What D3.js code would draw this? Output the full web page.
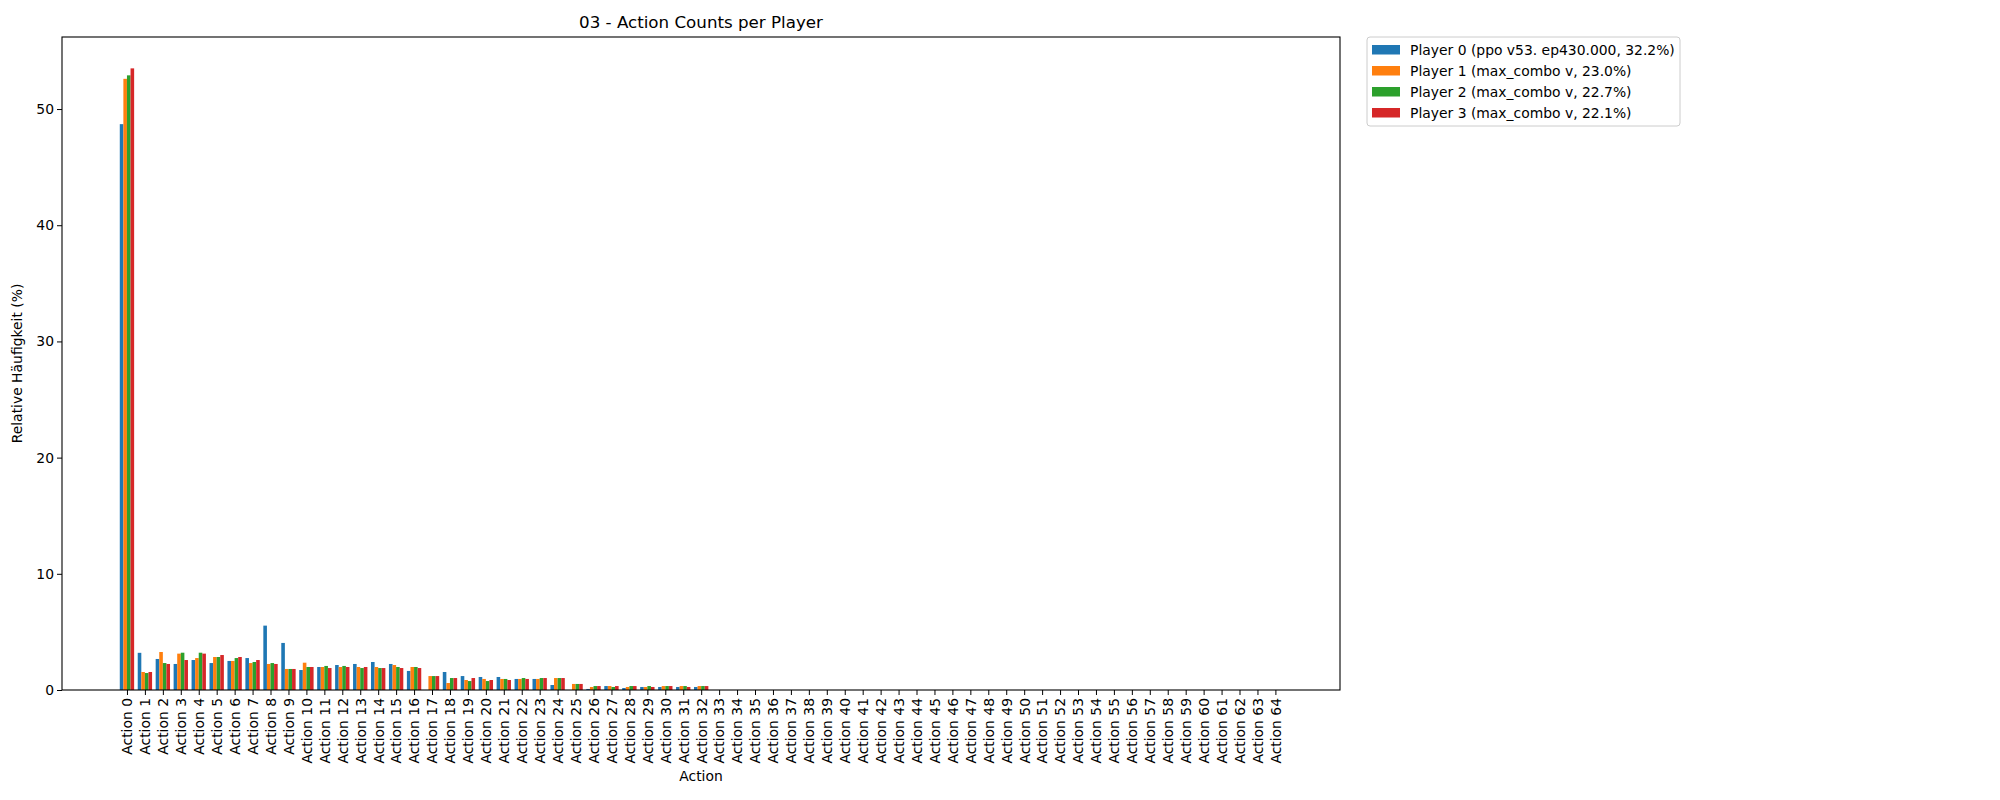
<!DOCTYPE html>
<html>
<head>
<meta charset="utf-8">
<script src="https://cdn.jsdelivr.net/npm/d3@7"></script>
<style>
  body { margin: 0; background: #fff; }
  text { font-family: "DejaVu Sans", sans-serif; fill: #000; }
</style>
</head>
<body>
<svg id="chart"></svg>
<script>
var WIDTH = 2000, HEIGHT = 800;

var actions = d3.range(65).map(function (i) { return 'Action ' + i; });

var players = [
	'Player 0 (ppo v53. ep430.000, 32.2%)',
	'Player 1 (max_combo v, 23.0%)',
	'Player 2 (max_combo v, 22.7%)',
	'Player 3 (max_combo v, 22.1%)'
];
var colors = ['#1f77b4', '#ff7f0e', '#2ca02c', '#d62728'];

// relative frequency (%) per action, actions 0..32 (rest are 0)
var p0 = [48.7, 3.2, 2.67, 2.24, 2.58, 2.32, 2.5, 2.75, 5.54, 4.05, 1.72, 1.98, 2.15, 2.24, 2.41, 2.24, 1.64, 0,
	1.55, 1.2, 1.12, 1.12, 0.95, 0.95, 0.43, 0, 0.09, 0.34, 0.17, 0.26, 0.26, 0.26, 0.26];
var p1 = [52.6, 1.55, 3.27, 3.13, 2.75, 2.84, 2.5, 2.32, 2.24, 1.81, 2.35, 1.98, 1.98, 1.98, 1.98, 2.15, 1.98, 1.2,
	0.6, 0.86, 0.95, 0.95, 0.95, 0.95, 1.03, 0.52, 0.26, 0.34, 0.26, 0.26, 0.34, 0.34, 0.34];
var p2 = [52.9, 1.46, 2.32, 3.21, 3.21, 2.84, 2.75, 2.41, 2.32, 1.81, 1.98, 2.07, 2.07, 1.89, 1.89, 1.98, 1.98, 1.2,
	1.03, 0.77, 0.77, 0.95, 1.03, 1.03, 1.03, 0.52, 0.34, 0.26, 0.34, 0.34, 0.34, 0.34, 0.34];
var p3 = [53.5, 1.55, 2.24, 2.58, 3.13, 3.01, 2.84, 2.58, 2.24, 1.81, 1.98, 1.89, 1.98, 1.98, 1.89, 1.89, 1.89, 1.2,
	1.03, 1.03, 0.86, 0.86, 0.95, 1.03, 1.03, 0.52, 0.34, 0.34, 0.34, 0.26, 0.34, 0.26, 0.34];
var series = [p0, p1, p2, p3];

var yTicks = [0, 10, 20, 30, 40, 50];

var margin = { left: 62, right: 660, top: 37, bottom: 110 };
var plotW = WIDTH - margin.left - margin.right;
var plotH = HEIGHT - margin.top - margin.bottom;

var svg = d3.select('#chart').attr('width', WIDTH).attr('height', HEIGHT);
var g = svg.append('g').attr('transform', 'translate(' + margin.left + ',' + margin.top + ')');

var x = d3.scaleLinear().domain([-3.62, 67.6]).range([0, plotW]);
var y = d3.scaleLinear().domain([0, 56.2]).range([plotH, 0]);
var barW = 0.2;

series.forEach(function (vals, s) {
	g.selectAll('rect.s' + s)
		.data(actions.map(function (a, i) { return { i: i, v: vals[i] || 0 }; }))
		.enter().append('rect')
		.attr('class', 's' + s)
		.attr('x', function (d) { return x(d.i - 0.4 + s * barW); })
		.attr('width', x(barW) - x(0))
		.attr('y', function (d) { return y(d.v); })
		.attr('height', function (d) { return plotH - y(d.v); })
		.attr('fill', colors[s]);
});

var xAxis = g.append('g')
	.attr('transform', 'translate(0,' + plotH + ')')
	.call(d3.axisBottom(x).tickValues(d3.range(65)).tickFormat(function (d) { return actions[d]; }).tickSizeOuter(0).tickSize(5));
xAxis.selectAll('text')
	.attr('transform', 'rotate(-90)')
	.attr('x', -8).attr('y', 0).attr('dy', '0.35em')
	.style('text-anchor', 'end')
	.style('font-size', '13.9px');

var yAxis = g.append('g')
	.call(d3.axisLeft(y).tickValues(yTicks).tickSizeOuter(0).tickSize(5));
yAxis.selectAll('text').style('font-size', '13.9px').attr('x', -8);
g.selectAll('.domain').remove();
g.selectAll('.tick line').attr('stroke', '#000');

g.append('rect').attr('width', plotW).attr('height', plotH)
	.attr('fill', 'none').attr('stroke', '#000').attr('stroke-width', 1.1);

svg.append('text').attr('x', margin.left + plotW / 2).attr('y', 28)
	.attr('text-anchor', 'middle').style('font-size', '16.7px')
	.text('03 - Action Counts per Player');
svg.append('text').attr('x', margin.left + plotW / 2).attr('y', 781)
	.attr('text-anchor', 'middle').style('font-size', '13.9px').text('Action');
svg.append('text')
	.attr('transform', 'translate(22,' + (margin.top + plotH / 2) + ') rotate(-90)')
	.attr('text-anchor', 'middle').style('font-size', '13.9px')
	.text('Relative Häufigkeit (%)');

// legend
var lg = svg.append('g').attr('transform', 'translate(1367,37)');
lg.append('rect').attr('width', 313).attr('height', 89).attr('rx', 3)
	.attr('fill', '#fff').attr('stroke', '#ccc');
players.forEach(function (p, i) {
	lg.append('rect').attr('x', 5).attr('y', 8 + i * 21).attr('width', 28).attr('height', 9.5).attr('fill', colors[i]);
	lg.append('text').attr('x', 43).attr('y', 13 + i * 21).attr('dy', '0.35em')
		.style('font-size', '13.9px').text(p);
});
</script>
</body>
</html>
